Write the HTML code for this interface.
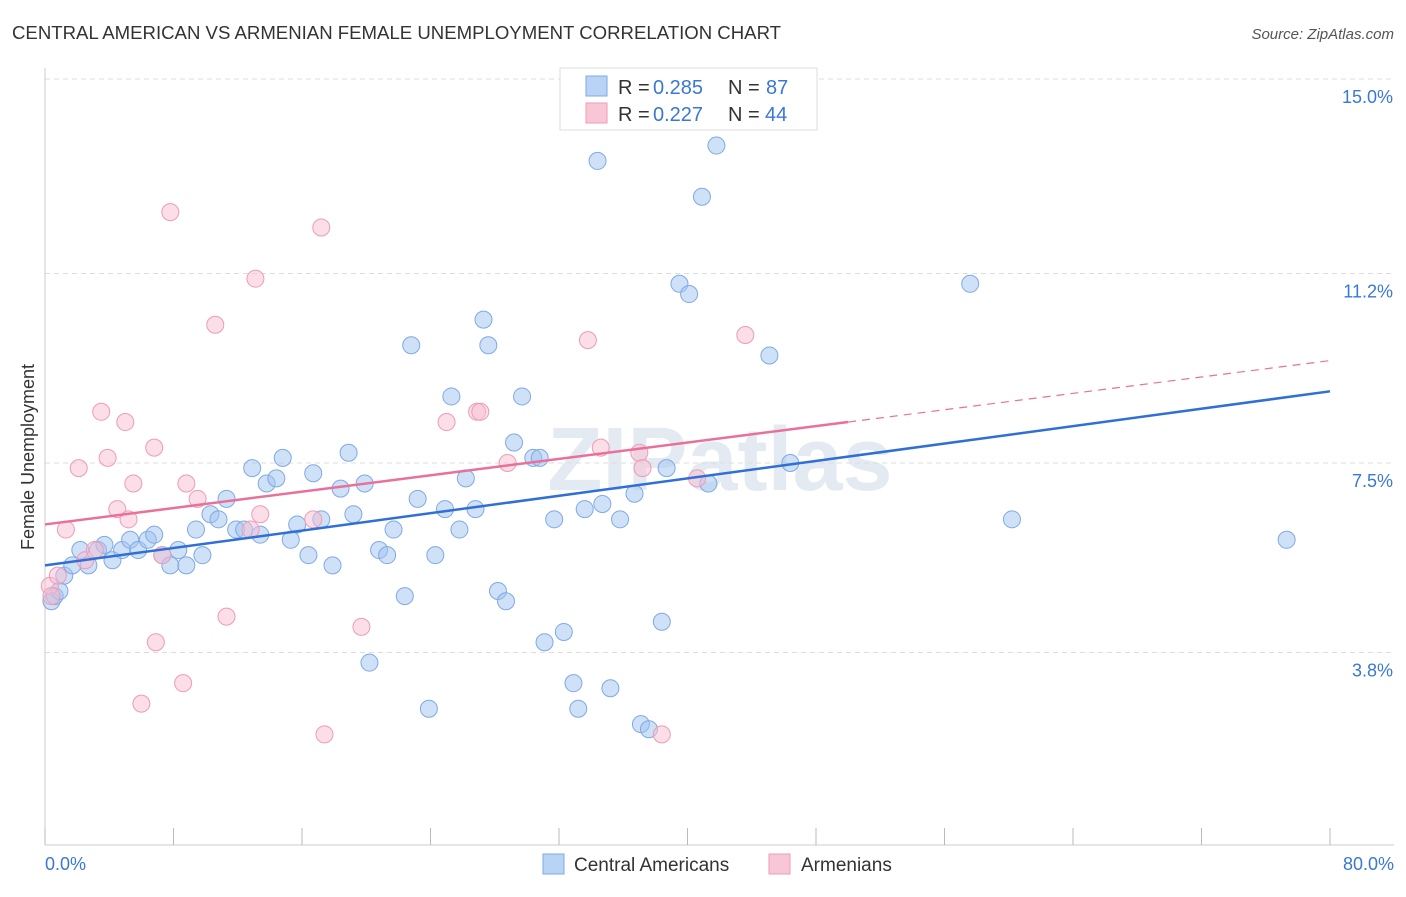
<!DOCTYPE html>
<html><head><meta charset="utf-8"><style>
body{margin:0;background:#fff;font-family:"Liberation Sans",sans-serif;}
svg text{font-family:"Liberation Sans",sans-serif;}
</style></head><body>
<svg id="chart" width="1406" height="892">
<text x="12" y="39" font-size="18.6" fill="#333">CENTRAL AMERICAN VS ARMENIAN FEMALE UNEMPLOYMENT CORRELATION CHART</text>
<text x="1394" y="39" font-size="15" fill="#555" font-style="italic" text-anchor="end">Source: ZipAtlas.com</text>
<text x="720" y="490" font-size="90" fill="#e4eaf1" text-anchor="middle" font-weight="bold">ZIPatlas</text>
<g id="grid"></g><g id="axes"></g><g id="marks"></g>
<text transform="translate(34,457) rotate(-90)" font-size="18" fill="#333" text-anchor="middle">Female Unemployment</text>
<text x="45" y="870" font-size="18" fill="#3a78d4">0.0%</text>
<text x="1394" y="870" font-size="18" fill="#3a78d4" text-anchor="end">80.0%</text>
<g>
<rect x="560" y="68" width="257" height="62" fill="#fff" stroke="#ddd"/>
<rect x="586" y="76" width="21" height="20" fill="#b9d3f5" stroke="#7fa9e6"/>
<rect x="586" y="103" width="21" height="20" fill="#f9c6d6" stroke="#ee9bb6"/>
<text x="618" y="94" font-size="20" fill="#333">R =</text>
<text x="653" y="94" font-size="20" fill="#3a78d4">0.285</text>
<text x="728" y="94" font-size="20" fill="#333">N =</text>
<text x="766" y="94" font-size="20" fill="#3a78d4">87</text>
<text x="618" y="121" font-size="20" fill="#333">R =</text>
<text x="653" y="121" font-size="20" fill="#3a78d4">0.227</text>
<text x="728" y="121" font-size="20" fill="#333">N =</text>
<text x="765" y="121" font-size="20" fill="#3a78d4">44</text>
</g>
<g>
<rect x="543" y="854" width="21" height="20" fill="#b9d3f5" stroke="#7fa9e6"/>
<text x="574" y="871" font-size="19" fill="#333">Central Americans</text>
<rect x="769" y="854" width="21" height="20" fill="#f9c6d6" stroke="#ee9bb6"/>
<text x="801" y="871" font-size="19" fill="#333">Armenians</text>
</g>
</svg>
<script>
const yTicks=[3.8,7.5,11.2,15.0];
const yTickLabels=["3.8%","7.5%","11.2%","15.0%"];
const blueX=[0.4,0.6,0.9,1.2,1.7,2.2,2.7,3.3,3.7,4.2,4.8,5.3,5.8,6.4,6.8,7.3,7.8,8.3,8.8,9.4,9.8,10.3,10.8,11.3,11.9,12.4,12.9,13.4,13.8,14.4,14.8,15.3,15.7,16.4,16.7,17.2,17.9,18.4,18.9,19.2,19.9,20.2,20.8,21.3,21.7,22.4,22.8,23.2,23.9,24.3,24.9,25.3,25.8,26.2,26.8,27.3,27.6,28.2,28.7,29.2,29.7,30.4,30.8,31.1,31.7,32.3,32.9,33.2,33.6,34.4,34.7,35.2,35.8,36.7,37.1,37.6,38.4,38.7,39.5,40.1,40.9,41.3,41.8,45.1,46.4,57.6,60.2,77.3];
const blueY=[4.8,4.9,5.0,5.3,5.5,5.8,5.5,5.8,5.9,5.6,5.8,6.0,5.8,6.0,6.1,5.7,5.5,5.8,5.5,6.2,5.7,6.5,6.4,6.8,6.2,6.2,7.4,6.1,7.1,7.2,7.6,6.0,6.3,5.7,7.3,6.4,5.5,7.0,7.7,6.5,7.1,3.6,5.8,5.7,6.2,4.9,9.8,6.8,2.7,5.7,6.6,8.8,6.2,7.2,6.6,10.3,9.8,5.0,4.8,7.9,8.8,7.6,7.6,4.0,6.4,4.2,3.2,2.7,6.6,13.4,6.7,3.1,6.4,6.9,2.4,2.3,4.4,7.4,11.0,10.8,12.7,7.1,13.7,9.6,7.5,11.0,6.4,6.0];
const pinkX=[0.3,0.4,0.8,1.3,2.1,2.5,3.1,3.5,3.9,4.5,5.0,5.2,5.5,6.0,6.8,6.9,7.3,7.8,8.6,8.8,9.5,10.6,11.3,12.8,13.1,13.4,16.7,17.2,17.4,19.7,25.0,26.9,27.1,28.8,33.8,34.6,37.0,37.2,38.4,40.6,43.6];
const pinkY=[5.1,4.9,5.3,6.2,7.4,5.6,5.8,8.5,7.6,6.6,8.3,6.4,7.1,2.8,7.8,4.0,5.7,12.4,3.2,7.1,6.8,10.2,4.5,6.2,11.1,6.5,6.4,12.1,2.2,4.3,8.3,8.5,8.5,7.5,9.9,7.8,7.7,7.4,2.2,7.2,10.0];
const blueTrend=[5.5,8.9];
const pinkTrend=[6.3,9.5];
const ns="http://www.w3.org/2000/svg";
const X0=45,X1=1330,Y0=847,PY=51.2;
const sx=v=>X0+(X1-X0)*v/80, sy=v=>Y0-v*PY;
function mk(tag,attrs,parent){const e=document.createElementNS(ns,tag);for(const k in attrs)e.setAttribute(k,attrs[k]);document.getElementById(parent).appendChild(e);return e;}
yTicks.forEach((t,i)=>{
 const l=mk('line',{x1:X0,x2:1394,y1:sy(t),y2:sy(t),stroke:'#ddd','stroke-dasharray':'5,4'},'grid');
 
 
 const tx=mk('text',{x:1393,y:sy(t)+24,'font-size':18,fill:'#3a78d4','text-anchor':'end'},'grid');
 tx.textContent=yTickLabels[i];
 
 
});
const ax=mk('line',{x1:X0,x2:1394,y1:845,y2:845,stroke:'#ccc'},'axes');


const ay=mk('line',{x1:X0,x2:X0,y1:68,y2:845,stroke:'#ccc'},'axes');


for(let i=0;i<=10;i++){const t=mk('line',{x1:sx(i*8),x2:sx(i*8),y1:828,y2:845,stroke:'#bbb'},'axes');
 
 }
blueX.forEach((v,i)=>{const c=mk('circle',{cx:sx(v),cy:sy(blueY[i]),r:8.5,fill:'rgba(160,196,240,0.5)',stroke:'#7fa9e6','stroke-width':1},'marks');
 
 });
pinkX.forEach((v,i)=>{const c=mk('circle',{cx:sx(v),cy:sy(pinkY[i]),r:8.5,fill:'rgba(248,190,210,0.5)',stroke:'#ee9bb6','stroke-width':1},'marks');
 
 });
const bl=mk('line',{x1:sx(0),y1:sy(blueTrend[0]),x2:sx(80),y2:sy(blueTrend[1]),stroke:'#2f6fd6','stroke-width':2.5},'marks');


const pm=pinkTrend[0]+(pinkTrend[1]-pinkTrend[0])*50/80;
const pl=mk('line',{x1:sx(0),y1:sy(pinkTrend[0]),x2:sx(50),y2:sy(pm),stroke:'#e8709a','stroke-width':2.5},'marks');


const pd=mk('line',{x1:sx(50),y1:sy(pm),x2:sx(80),y2:sy(pinkTrend[1]),stroke:'#e8709a','stroke-width':1.2,'stroke-dasharray':'8,6'},'marks');


</script>
</body></html>
